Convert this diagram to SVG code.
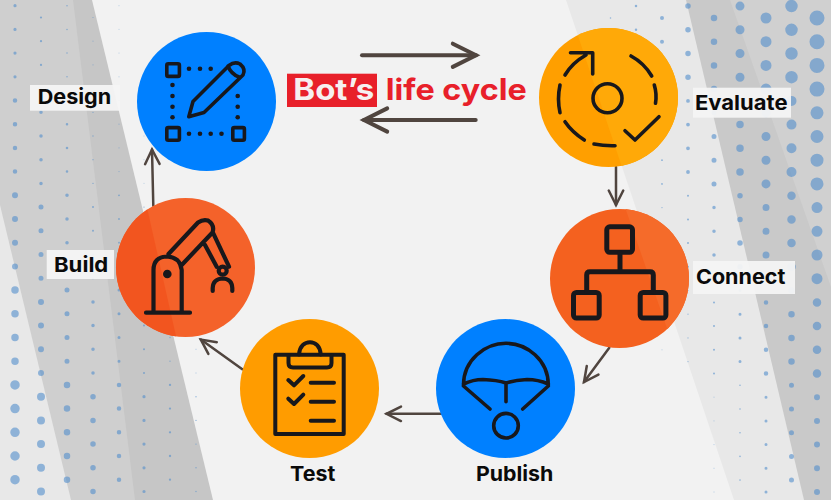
<svg xmlns="http://www.w3.org/2000/svg" width="831" height="500" viewBox="0 0 831 500">
<style>
.ic{fill:none;stroke:#18181c;stroke-width:3.6;stroke-linecap:round;stroke-linejoin:round}
.dk{fill:#18181c}
.lb{font-family:Inter,"Liberation Sans",sans-serif;font-weight:700;font-size:20.5px;fill:#0a0a0a}
.pl{fill:#f4f4f4;fill-opacity:.95}
.tt{font-family:Inter,"Liberation Sans",sans-serif;font-weight:700;font-size:29.5px}
.cn{fill:none;stroke:#50453f;stroke-width:2.5;stroke-linecap:round;marker-end:url(#h)}
.big{stroke-width:4}
#dots path{fill:none;stroke:#4d8ccc;stroke-opacity:.58;stroke-dasharray:0 23.7;stroke-linecap:round}
</style>
<defs>
<marker id="h" viewBox="-8 -5 16 10" markerWidth="16" markerHeight="10" refX="0" refY="0" orient="auto" markerUnits="strokeWidth"><path d="M-5.8-2.9L0 0L-5.8 2.9" fill="none" stroke="#50453f" stroke-width="1" stroke-linecap="round"/></marker>
<clipPath id="ce"><circle cx="608.5" cy="97.5" r="69.5"/></clipPath>
<clipPath id="cc"><circle cx="619.5" cy="278.5" r="69.5"/></clipPath>
<clipPath id="cb"><circle cx="185.5" cy="267.5" r="69.5"/></clipPath>
</defs>
<g id="background">
<rect width="831" height="500" fill="#f2f2f2"/>
<path d="M0 0H92L213 500H0Z" fill="#c6c6c6"/>
<path d="M0 0H73L135 500H0Z" fill="#cfcfcf"/>
<path d="M0 205L71 500H0Z" fill="#e8e8e8"/>
<path d="M566 0H831V500H734Z" fill="#e8e8e8"/>
<path d="M686 0H831V500H804Z" fill="#c9c9c9"/>
<path d="M730 0H831V287Z" fill="#d0d0d0"/>
</g>
<g id="dots">
<path d="M15 5.7v72" stroke-width="3.2"/><path d="M15 100.500v72" stroke-width="4.500"/><path d="M15 195.300v72" stroke-width="6"/><path d="M15 290.100v72" stroke-width="7.500"/><path d="M15 384.900v96" stroke-width="9.500"/>
<path d="M41 17.500v72" stroke-width="2.200"/><path d="M41 112.300v72" stroke-width="3.500"/><path d="M41 207.100v72" stroke-width="5"/><path d="M41 301.900v72" stroke-width="6"/><path d="M41 396.700v96" stroke-width="8"/>
<path d="M67 5.700v72" stroke-width="1.500"/><path d="M67 100.500v72" stroke-width="2.500"/><path d="M67 195.300v72" stroke-width="3.500"/><path d="M67 290.100v72" stroke-width="5"/><path d="M67 384.900v96" stroke-width="6.500"/>
<path d="M93 17.500v72" stroke-width="1"/><path d="M93 112.300v72" stroke-width="1.300"/><path d="M93 207.100v72" stroke-width="2"/><path d="M93 301.900v72" stroke-width="3.500"/><path d="M93 396.700v96" stroke-width="5.500"/>
<path d="M119 5.700v72" stroke-width=".7"/><path d="M119 100.500v72" stroke-width="1"/><path d="M119 195.300v72" stroke-width="1.800"/><path d="M119 290.100v72" stroke-width="3"/><path d="M119 384.900v96" stroke-width="4.500"/>
<path d="M144 112.300v72" stroke-width=".7"/><path d="M144 207.100v72" stroke-width="1.300"/><path d="M144 301.900v72" stroke-width="2"/><path d="M144 396.700v96" stroke-width="3.200"/>
<path d="M170 290.100v72" stroke-width="1.300"/><path d="M170 384.900v96" stroke-width="2.300"/>
<path d="M196 301.900v72" stroke-width=".9"/><path d="M196 396.700v96" stroke-width="1.400"/>
<path d="M817 18v72" stroke-width="15"/><path d="M817 112.800v72" stroke-width="13"/><path d="M817 207.600v72" stroke-width="11"/><path d="M817 302.400v72" stroke-width="8.500"/><path d="M817 397.200v96" stroke-width="6"/>
<path d="M791.500 6.100v72" stroke-width="12.500"/><path d="M791.500 100.900v72" stroke-width="10"/><path d="M791.500 195.700v72" stroke-width="8.500"/><path d="M791.500 290.500v72" stroke-width="6.500"/><path d="M791.500 385.300v96" stroke-width="5"/>
<path d="M766 18v72" stroke-width="11"/><path d="M766 112.800v72" stroke-width="9"/><path d="M766 207.600v72" stroke-width="7"/><path d="M766 302.400v72" stroke-width="4.500"/><path d="M766 397.200v96" stroke-width="3"/>
<path d="M740 6.100v72" stroke-width="9"/><path d="M740 100.900v72" stroke-width="7.500"/><path d="M740 195.700v72" stroke-width="5.500"/><path d="M740 290.500v72" stroke-width="3"/><path d="M740 385.300v96" stroke-width="1.600"/>
<path d="M714 18v72" stroke-width="6.500"/><path d="M714 112.800v72" stroke-width="5"/><path d="M714 207.600v72" stroke-width="3.500"/><path d="M714 302.400v72" stroke-width="2"/><path d="M714 397.200v96" stroke-width=".8"/>
<path d="M688 6.100v72" stroke-width="5.500"/><path d="M688 100.900v72" stroke-width="3.800"/><path d="M688 195.700v72" stroke-width="2"/><path d="M688 290.500v72" stroke-width="1.200"/>
<path d="M662 18v72" stroke-width="4"/><path d="M662 112.800v72" stroke-width="1.800"/><path d="M662 207.600v72" stroke-width="1.300"/><path d="M662 302.400v48" stroke-width=".7"/>
<path d="M636 6.100v72" stroke-width="2.500"/>
<path d="M610.500 18v1" stroke-width="1.500"/>
</g>
<g id="connectors">
<path class="cn big" d="M362 55.300H476"/>
<path class="cn big" d="M475.700 120H364"/>
<path class="cn" d="M616 167V205"/>
<path class="cn" d="M609.300 347.700L584 382"/>
<path class="cn" d="M441 413.800H386.500"/>
<path class="cn" d="M242.300 369.300L200.800 339.600"/>
<path class="cn" d="M153.300 205.700L152 149.500"/>
</g>
<g id="title">
<rect x="287" y="73.700" width="90" height="33.300" fill="#e8202a"/>
<text class="tt" x="293.300" y="100" fill="#f6f0f0" textLength="81" lengthAdjust="spacingAndGlyphs">Bot’s</text>
<text class="tt" x="385.700" y="100" fill="#e8202a" textLength="141" lengthAdjust="spacingAndGlyphs">life cycle</text>
</g>
<g id="design">
<circle cx="206.500" cy="101.500" r="69.500" fill="#0080ff"/>
<g class="ic"><rect x="166.800" y="63.800" width="12.600" height="12.600" rx="1.500"/><rect x="166.800" y="127.600" width="12.600" height="12.600" rx="1.500"/><rect x="232.800" y="127.600" width="11.600" height="12.600" rx="1.500"/>
<path d="M188.800 116.700L193 101.500L229 65.500Q234.500 61 240 64Q246 69 243 75L204 112.500ZM228 66Q231 74 239 77"/></g>
<g class="dk"><circle cx="189" cy="68.700" r="2.300"/><circle cx="200" cy="68.700" r="2.300"/><circle cx="210.700" cy="68.700" r="2.300"/><circle cx="172.500" cy="85" r="2.300"/><circle cx="172.500" cy="96" r="2.300"/><circle cx="172.500" cy="106.700" r="2.300"/><circle cx="172.500" cy="117.300" r="2.300"/><circle cx="189" cy="133.700" r="2.300"/><circle cx="200" cy="133.700" r="2.300"/><circle cx="210.700" cy="133.700" r="2.300"/><circle cx="221.500" cy="133.700" r="2.300"/><circle cx="237.700" cy="96" r="2.300"/><circle cx="237.700" cy="106.700" r="2.300"/><circle cx="237.700" cy="117.300" r="2.300"/></g>
<rect class="pl" x="30" y="85" width="90" height="25.700"/>
<text class="lb" x="37.700" y="104.300" textLength="73.500" lengthAdjust="spacingAndGlyphs">Design</text>
</g>
<g id="evaluate">
<circle cx="608.500" cy="97.500" r="69.500" fill="#ff9f00"/>
<path d="M566 0H700V200H633Z" fill="#ffa908" clip-path="url(#ce)"/>
<g class="ic"><circle cx="607.500" cy="98.300" r="14.500"/>
<path d="M565 75Q572 63 586 55M570.500 52.700H592.700V74M631 56Q644 63 651.700 76M654.300 85Q657 94 655.500 103.300M560 85Q557 99 560 112.700M565 121.700Q572 132 584.300 140M594 144Q604 146 615 145.700M625 130.700L635 140L659 116.700"/></g>
<rect class="pl" x="693" y="87.700" width="98" height="30"/>
<text class="lb" x="695" y="110" textLength="92.500" lengthAdjust="spacingAndGlyphs">Evaluate</text>
</g>
<g id="connect">
<circle cx="619.500" cy="278.500" r="69.500" fill="#f4611f"/>
<path d="M619 190H720V360H678Z" fill="#f56b2a" clip-path="url(#cc)"/>
<g class="ic" style="stroke-width:5">
<rect x="606.800" y="226.800" width="25.700" height="25.500" rx="3"/><rect x="573.500" y="292.500" width="25.700" height="25.500" rx="3"/><rect x="640.200" y="292.500" width="25.700" height="25.500" rx="3"/>
<path d="M620 253V271.700M586.700 291V275Q586.700 271.700 590 271.700H650Q653.300 271.700 653.300 275V291"/></g>
<rect class="pl" x="693" y="261" width="102" height="33"/>
<text class="lb" x="696" y="284.300" textLength="89.300" lengthAdjust="spacingAndGlyphs">Connect</text>
</g>
<g id="publish">
<circle cx="505.500" cy="388.500" r="69.500" fill="#0080ff"/>
<g class="ic"><circle cx="506" cy="425.700" r="12.300"/>
<path d="M463.500 385C463.500 360 485 343.300 506 343.300C527 343.300 548.300 360 548.300 385M463.500 384Q473 379.500 483 379.500Q497 380 506 383Q515 380 527 379.500Q538 379.500 548.300 384M506 383V401.700M463.500 386L490 409M548.300 386L522.700 409"/></g>
<text class="lb" x="476" y="481" textLength="77.300" lengthAdjust="spacingAndGlyphs">Publish</text>
</g>
<g id="test">
<circle cx="309.500" cy="388.500" r="69.500" fill="#ff9c00"/>
<g class="ic" style="stroke-width:4"><rect x="275.300" y="354.700" width="68.400" height="79.300"/>
<path d="M288.500 355V363Q288.500 367.500 293 367.500H327Q331.500 367.500 331.500 363V355M299 354.500C300 338 320 338 320.700 354.500M288.300 380L294 385.300L303.300 376M288.300 398.700L294 404L303.300 394.700M310.700 382.700H334M310.700 401.700H334M310.700 420.700H334"/></g>
<text class="lb" x="290" y="481" textLength="45.300" lengthAdjust="spacingAndGlyphs">Test</text>
</g>
<g id="build">
<circle cx="185.500" cy="267.500" r="69.500" fill="#f4622a"/>
<path d="M100 190H143L178 345H100Z" fill="#f2551f" clip-path="url(#cb)"/>
<g class="ic" style="stroke-width:4.200"><path d="M146 312.700H190M153.500 312V270Q153.500 257 167 256.500Q180 257 181.700 270V312M168.500 254L198 222.500Q203 219 208 220.500Q215 225 212.500 232.500L181.700 265M205 245L216.700 266.700M213.300 233.300L229 266.700M212.700 291V288Q213 279 222.700 278.500Q232 279 232.300 288V291"/><circle cx="222.700" cy="270.700" r="4"/></g>
<circle class="dk" cx="167.300" cy="274" r="4.300"/>
<rect class="pl" x="46.700" y="250" width="67.300" height="29"/>
<text class="lb" x="54" y="271.700" textLength="54.300" lengthAdjust="spacingAndGlyphs">Build</text>
</g>
</svg>
